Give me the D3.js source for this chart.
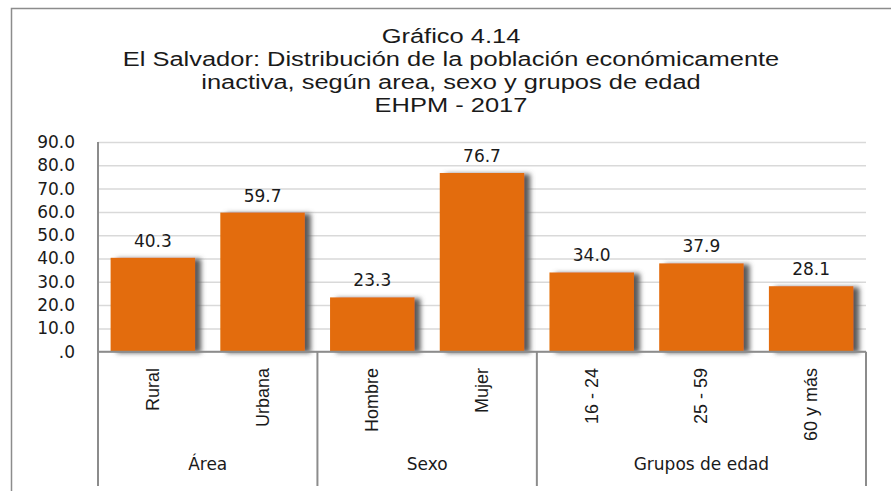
<!DOCTYPE html>
<html>
<head>
<meta charset="utf-8">
<script src="https://cdn.jsdelivr.net/npm/d3@7"></script>
<style>
  body { margin: 0; background: #fff; }
  svg { display: block; }
</style>
</head>
<body>
<div id="chart"></div>
<script>
// data
var categories = ["Rural", "Urbana", "Hombre", "Mujer", "16 - 24", "25 - 59", "60 y más"];
var values = [40.3, 59.7, 23.3, 76.7, 34.0, 37.9, 28.1];
var groups = ["Área", "Sexo", "Grupos de edad"];
var groupSizes = [2, 2, 3];
var yTicks = [0, 10, 20, 30, 40, 50, 60, 70, 80, 90];
var titleLines = [
  "Gráfico 4.14",
  "El Salvador: Distribución de la población económicamente",
  "inactiva, según area, sexo y grupos de edad",
  "EHPM - 2017"
];

var svgWidth = 891, svgHeight = 491;
var plot = { left: 98, right: 866, top: 142, bottom: 351.7 };
var tableBottom = 486;

var svg = d3.select("#chart").append("svg")
  .attr("width", svgWidth)
  .attr("height", svgHeight);

var defs = svg.append("defs");
var shadow = defs.append("filter")
  .attr("id", "shadow")
  .attr("x", "-10%").attr("y", "-10%")
  .attr("width", "140%").attr("height", "120%");
shadow.append("feDropShadow")
  .attr("dx", 6).attr("dy", 1)
  .attr("stdDeviation", 2.5)
  .attr("flood-color", "#5a5a5a")
  .attr("flood-opacity", 1);

// outer frame
svg.append("rect")
  .attr("x", 11.5).attr("y", 8.5)
  .attr("width", 900).attr("height", 500)
  .attr("fill", "none")
  .attr("stroke", "#8c8c8c")
  .attr("stroke-width", 1.5);

// title, stretched a little wider like the original
var titleG = svg.append("g");
var titleText = titleG.selectAll("text")
  .data(titleLines)
  .enter().append("text")
  .attr("x", 0)
  .attr("y", (d, i) => 43 + i * 23)
  .attr("text-anchor", "middle")
  .attr("font-family", "Liberation Sans, Arial, sans-serif")
  .attr("font-size", 21)
  .attr("fill", "#1a1a1a")
  .text(d => d);
var w2 = titleText.nodes()[1].getComputedTextLength();
var sx = 657 / w2;
titleG.attr("transform", `translate(451,0) scale(${sx},1)`);

var x = d3.scaleBand()
  .domain(categories)
  .range([plot.left, plot.right])
  .paddingInner(0.23)
  .paddingOuter(0.115);

var y = d3.scaleLinear()
  .domain([0, 90])
  .range([plot.bottom, plot.top]);

// gridlines
svg.append("g")
  .attr("transform", `translate(${plot.left},0)`)
  .call(d3.axisLeft(y).tickValues(yTicks).tickSize(-(plot.right - plot.left)).tickFormat(""))
  .call(g => g.select(".domain").remove())
  .call(g => g.selectAll("line").attr("stroke", "#d9d9d9").attr("stroke-width", 1.5));

// y tick labels
svg.append("g")
  .attr("transform", `translate(${plot.left - 23},0)`)
  .call(d3.axisLeft(y).tickValues(yTicks).tickSize(0)
    .tickFormat(v => v === 0 ? ".0" : v.toFixed(1)))
  .call(g => g.select(".domain").remove())
  .call(g => g.selectAll("text")
    .attr("x", 0)
    .attr("font-family", "DejaVu Sans, Verdana, sans-serif")
    .attr("font-size", 17)
    .attr("fill", "#1a1a1a"));

// bars
svg.append("g").selectAll("rect")
  .data(values)
  .enter().append("rect")
  .attr("x", (d, i) => x(categories[i]))
  .attr("y", d => y(d))
  .attr("width", x.bandwidth())
  .attr("height", d => y(0) - y(d))
  .attr("fill", "#e36c0a")
  .attr("filter", "url(#shadow)");

// value labels
svg.append("g").selectAll("text")
  .data(values)
  .enter().append("text")
  .attr("x", (d, i) => x(categories[i]) + x.bandwidth() / 2)
  .attr("y", d => y(d) - 11)
  .attr("text-anchor", "middle")
  .attr("font-family", "DejaVu Sans, Verdana, sans-serif")
  .attr("font-size", 17)
  .attr("fill", "#1a1a1a")
  .text(d => d.toFixed(1));

// category axis table
var axisColor = "#8c8c8c";
var table = svg.append("g");
table.append("line")
  .attr("x1", plot.left).attr("x2", plot.right)
  .attr("y1", y(0)).attr("y2", y(0))
  .attr("stroke", axisColor).attr("stroke-width", 2);

table.append("line")
  .attr("x1", plot.left).attr("x2", plot.left)
  .attr("y1", plot.top).attr("y2", tableBottom)
  .attr("stroke", axisColor).attr("stroke-width", 2);

var start = 0;
var groupPos = groupSizes.map(function(n) {
  var g = { x0: plot.left + start * (plot.right - plot.left) / categories.length,
            x1: plot.left + (start + n) * (plot.right - plot.left) / categories.length };
  start += n;
  return g;
});

table.selectAll(".sep")
  .data(groupPos)
  .enter().append("line")
  .attr("x1", d => d.x1).attr("x2", d => d.x1)
  .attr("y1", y(0)).attr("y2", tableBottom)
  .attr("stroke", axisColor).attr("stroke-width", 2);

table.selectAll(".cat")
  .data(categories)
  .enter().append("text")
  .attr("transform", d => `translate(${x(d) + x.bandwidth() / 2 + 6},368) rotate(-90)`)
  .attr("text-anchor", "end")
  .attr("font-family", "Liberation Sans Narrow, Arial Narrow, sans-serif")
  .attr("font-size", 18)
  .attr("fill", "#1a1a1a")
  .text(d => d);

table.selectAll(".grp")
  .data(groups)
  .enter().append("text")
  .attr("x", (d, i) => (groupPos[i].x0 + groupPos[i].x1) / 2)
  .attr("y", 470)
  .attr("text-anchor", "middle")
  .attr("font-family", "DejaVu Sans, Verdana, sans-serif")
  .attr("font-size", 17)
  .attr("fill", "#1a1a1a")
  .text(d => d);
</script>
</body>
</html>
